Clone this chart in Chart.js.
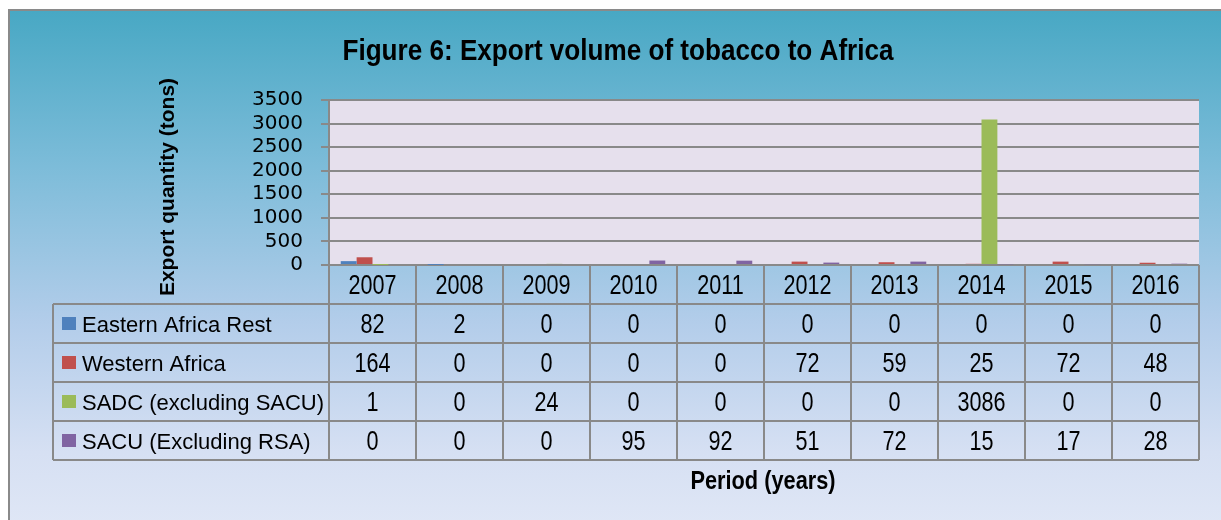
<!DOCTYPE html>
<html>
<head>
<meta charset="utf-8">
<script src="https://cdn.jsdelivr.net/npm/chart.js@4.4.1/dist/chart.umd.min.js"></script>
<style>
  html, body { margin: 0; padding: 0; width: 1221px; height: 520px; overflow: hidden; background: #fff; }
  #frame {
    position: absolute; left: 8px; top: 9px; width: 1300px; height: 520px;
    border: 2px solid #8a8a8a;
    background: linear-gradient(to bottom, #48a8c4 0%, #7dbcd9 30%, #b3cdea 60%, #d6e0f3 85%, #e0e7f6 100%);
  }
  #wrap { position: absolute; left: 0; top: 0; width: 1221px; height: 520px; }
</style>
</head>
<body>
<div id="frame"></div>
<div id="wrap"><canvas id="myChart" width="1221" height="520"></canvas></div>
<script>
// 年（カテゴリ）
const years = ['2007', '2008', '2009', '2010', '2011', '2012', '2013', '2014', '2015', '2016'];

// 系列ごとの輸出量（トン）
const easternAfricaRest = [82, 2, 0, 0, 0, 0, 0, 0, 0, 0];
const westernAfrica = [164, 0, 0, 0, 0, 72, 59, 25, 72, 48];
const sadcExclSacu = [1, 0, 24, 0, 0, 0, 0, 3086, 0, 0];
const sacuExclRsa = [0, 0, 0, 95, 92, 51, 72, 15, 17, 28];

const seriesNames = ['Eastern Africa Rest', 'Western Africa', 'SADC (excluding SACU)', 'SACU (Excluding RSA)'];
const seriesColors = ['#4f81bd', '#c0504d', '#9bbb59', '#8064a2'];

const titleText = 'Figure 6: Export volume of tobacco to Africa';
const yTitleText = 'Export quantity (tons)';
const xTitleText = 'Period (years)';

const lineColor = '#898989';

// テキスト描画（横方向の縮小あり）
function drawText(ctx, text, x, y, font, align, sx) {
    ctx.save();
    ctx.translate(x, y);
    ctx.scale(sx, 1);
    ctx.font = font;
    ctx.textAlign = align;
    ctx.textBaseline = 'alphabetic';
    ctx.fillStyle = '#000';
    ctx.fillText(text, 0, 0);
    ctx.restore();
}

// プロット背景
const plotBg = {
    id: 'plotBg',
    beforeDraw(chart) {
        const { ctx, chartArea: a } = chart;
        ctx.save();
        ctx.fillStyle = '#e6e0ed';
        ctx.fillRect(a.left, a.top, a.right - a.left, a.bottom - a.top);
        ctx.restore();
    }
};

// タイトル・軸タイトル・データテーブル
const dataTable = {
    id: 'dataTable',
    afterDraw(chart) {
        const { ctx, chartArea: a } = chart;
        const x = chart.scales.x;
        const colW = (a.right - a.left) / years.length;
        const rowH = 39;
        const headTop = a.bottom;
        const tableTop = headTop + rowH;
        const legendLeft = 53;

        // タイトル
        drawText(ctx, titleText, 618, 60, 'bold 30px "Liberation Sans", Arial, sans-serif', 'center', 0.87);

        // Y軸タイトル
        ctx.save();
        ctx.translate(174, 187);
        ctx.rotate(-Math.PI / 2);
        ctx.font = 'bold 21px "Liberation Sans", Arial, sans-serif';
        ctx.textAlign = 'center';
        ctx.fillStyle = '#000';
        ctx.fillText(yTitleText, 0, 0);
        ctx.restore();

        ctx.save();
        ctx.strokeStyle = lineColor;
        ctx.lineWidth = 2;

        // 縦線
        ctx.beginPath();
        for (let i = 0; i <= years.length; i++) {
            const px = a.left + i * colW;
            ctx.moveTo(px, headTop);
            ctx.lineTo(px, tableTop + rowH * seriesNames.length);
        }
        // 横線
        for (let r = 0; r <= seriesNames.length; r++) {
            const py = tableTop + r * rowH;
            ctx.moveTo(legendLeft, py);
            ctx.lineTo(a.right, py);
        }
        ctx.moveTo(legendLeft, tableTop);
        ctx.lineTo(legendLeft, tableTop + rowH * seriesNames.length);
        ctx.stroke();
        ctx.restore();

        const numFont = '27px "Liberation Sans", Arial, sans-serif';
        years.forEach((yr, i) => {
            drawText(ctx, yr, x.getPixelForTick(i), headTop + 29, numFont, 'center', 0.8);
        });

        chart.data.datasets.forEach((ds, r) => {
            const top = tableTop + r * rowH;
            ctx.fillStyle = seriesColors[r];
            ctx.fillRect(62, top + 13, 14, 13);
            drawText(ctx, ds.label, 82, top + 28, '22px "Liberation Sans", Arial, sans-serif', 'left', 1);
            ds.data.forEach((v, i) => {
                drawText(ctx, String(v), x.getPixelForTick(i), top + 29, numFont, 'center', 0.8);
            });
        });

        // X軸タイトル
        drawText(ctx, xTitleText, 763, 489, 'bold 25px "Liberation Sans", Arial, sans-serif', 'center', 0.87);
    }
};

const data = {
    labels: years,
    datasets: [
        { label: seriesNames[0], data: easternAfricaRest, backgroundColor: seriesColors[0] },
        { label: seriesNames[1], data: westernAfrica, backgroundColor: seriesColors[1] },
        { label: seriesNames[2], data: sadcExclSacu, backgroundColor: seriesColors[2] },
        { label: seriesNames[3], data: sacuExclRsa, backgroundColor: seriesColors[3] },
    ]
};

const config = {
    type: 'bar',
    data: data,
    options: {
        responsive: false,
        animation: false,
        layout: { padding: { left: 0, top: 100, right: 22, bottom: 255 } },
        datasets: {
            bar: { categoryPercentage: 0.73, barPercentage: 1.0, borderWidth: 0 }
        },
        scales: {
            x: { display: false },
            y: {
                min: 0,
                max: 3500,
                ticks: {
                    stepSize: 500,
                    autoSkip: false,
                    padding: 18,
                    color: '#000',
                    font: { family: '"DejaVu Sans", sans-serif', size: 20 },
                    callback: (v) => String(v)
                },
                grid: { color: lineColor, lineWidth: 2, tickLength: 8 },
                border: { color: lineColor, width: 2 },
                afterFit: (s) => { s.width = 329; }
            }
        },
        plugins: {
            legend: { display: false },
            title: { display: false },
            tooltip: { enabled: false }
        }
    },
    plugins: [plotBg, dataTable]
};

const myChart = new Chart(document.getElementById('myChart').getContext('2d'), config);
</script>
</body>
</html>
